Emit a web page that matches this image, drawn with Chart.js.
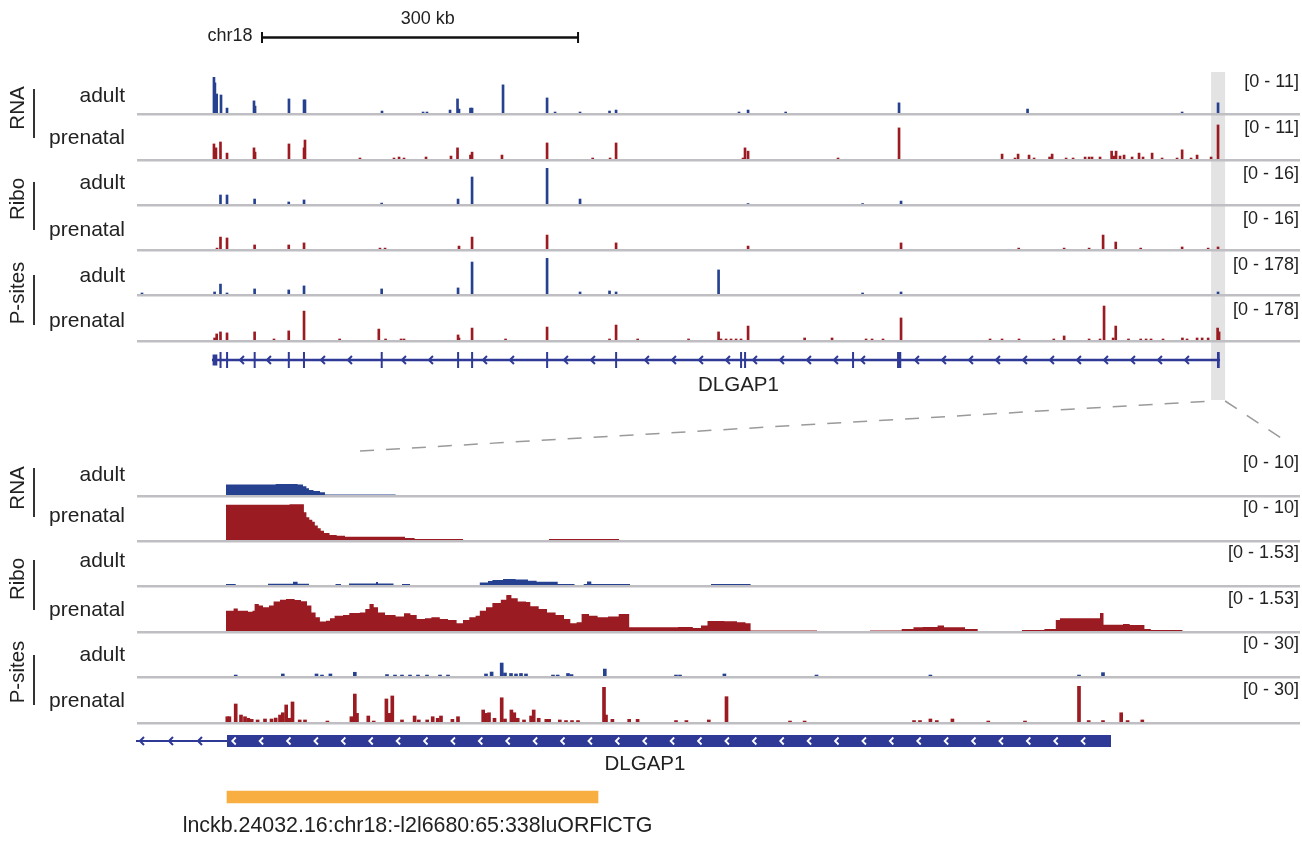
<!DOCTYPE html>
<html>
<head>
<meta charset="utf-8">
<script src="https://cdn.jsdelivr.net/npm/chart.js@4.4.1/dist/chart.umd.min.js"></script>
<style>
  html, body { margin: 0; padding: 0; background: #fff; }
  #page { position: relative; width: 1302px; height: 846px; overflow: hidden;
          font-family: 'Liberation Sans', Arial, Helvetica, sans-serif; color: #222; }
  #page canvas { position: absolute; }
  .lbl { position: absolute; white-space: nowrap; line-height: 1; }
  .vline { position: absolute; width: 1.5px; background: #333; }
</style>
</head>
<body>
<div id="page"></div>
<script>
// ---------- top panel: the whole DLGAP1 locus, x in kb from window start ----------
const topMinKb = 0, topMaxKb = 1103;
const topRanges = [11, 11, 16, 16, 178, 178];

const topRnaAdultPos = [72.1, 73.0, 74.7, 78.8, 84.5, 110.1, 111.1, 143.3, 157.6, 158.5, 231.6, 270.6, 274.3, 296.2, 303.3, 304.7, 315.6, 317.1, 346.5, 388.3, 395.9, 419.6, 447.6, 453.8, 570.5, 579.1, 614.8, 722.4, 844.4, 991.1, 1025.2];
const topRnaAdultVal = [11, 9.2, 5.8, 5.5, 1.5, 3.7, 2.1, 4.3, 4.0, 4.0, 0.6, 0.3, 0.3, 0.9, 4.3, 1.2, 1.5, 1.5, 8.6, 4.6, 0.3, 0.3, 0.6, 0.9, 0.3, 0.9, 0.3, 3.1, 1.2, 0.3, 3.1];

const topRnaPrenatalPos = [72.1, 74.0, 78.3, 84.5, 110.1, 111.1, 143.3, 157.6, 158.5, 210.7, 243.0, 247.8, 252.5, 273.4, 297.1, 303.3, 315.6, 317.1, 345.5, 388.3, 431.6, 448.1, 453.8, 574.3, 576.2, 579.1, 664.5, 722.4, 820.2, 832.5, 835.4, 845.8, 850.6, 865.3, 867.7, 881.0, 887.6, 899.0, 902.8, 905.6, 913.2, 924.2, 926.6, 928.4, 932.2, 936.0, 943.6, 950.2, 954.0, 962.6, 972.1, 986.3, 991.1, 999.6, 1005.3, 1018.6, 1025.2];
const topRnaPrenatalVal = [4.6, 3.4, 5.2, 1.8, 3.4, 2.1, 4.6, 3.4, 5.8, 0.3, 0.3, 0.6, 0.3, 0.6, 0.9, 3.4, 1.2, 2.1, 1.2, 4.9, 0.3, 0.3, 4.9, 0.3, 3.4, 2.4, 0.3, 9.5, 1.5, 0.3, 1.5, 1.2, 0.3, 0.6, 1.5, 0.3, 0.3, 0.6, 0.6, 0.6, 0.6, 2.4, 0.9, 2.4, 0.9, 1.2, 0.6, 1.8, 0.6, 1.8, 0.3, 0.3, 2.8, 0.3, 1.2, 0.6, 10.4];

const topRiboAdultPos = [78.3, 84.5, 110.7, 143.1, 157.6, 231.3, 303.8, 317.1, 388.3, 419.6, 579.1, 687.8, 724.3];
const topRiboAdultVal = [4.0, 4.0, 2.2, 0.9, 1.8, 0.4, 2.2, 12.0, 16, 2.2, 0.2, 0.2, 1.3];

const topRiboPrenatalPos = [75.0, 78.3, 84.5, 110.7, 143.1, 157.6, 229.7, 234.5, 304.7, 317.1, 388.3, 453.8, 579.1, 724.3, 836.0, 879.1, 902.8, 916.1, 928.1, 951.8, 991.1, 1015.8, 1025.2];
const topRiboPrenatalVal = [0.4, 5.3, 4.9, 1.8, 1.8, 2.7, 0.4, 0.4, 1.3, 5.3, 6.2, 2.7, 1.3, 2.7, 0.4, 0.4, 0.4, 6.2, 3.1, 0.4, 0.9, 0.4, 0.9];

const topPsiteAdultPos = [3.8, 72.7, 78.3, 84.5, 110.7, 143.1, 157.6, 231.3, 303.8, 317.1, 388.3, 419.6, 447.6, 453.8, 551.1, 687.8, 724.3, 1025.2];
const topPsiteAdultVal = [5, 10, 49, 5, 25, 20, 40, 25, 30, 158, 178, 10, 15, 10, 119, 5, 10, 10];

const topPsitePrenatalPos = [72.7, 74.7, 78.3, 84.5, 110.7, 129.1, 143.1, 157.6, 191.4, 228.6, 235.0, 249.7, 252.5, 303.8, 304.7, 317.1, 348.9, 388.3, 447.6, 453.8, 474.3, 522.6, 551.1, 553.4, 558.2, 562.9, 567.7, 572.4, 579.1, 632.8, 658.8, 691.1, 696.8, 707.2, 724.3, 808.8, 820.2, 836.3, 869.3, 879.1, 902.8, 913.2, 917.0, 925.6, 928.1, 940.2, 951.8, 956.9, 961.6, 973.0, 991.4, 995.8, 1005.3, 1010.1, 1015.8, 1024.8, 1026.2];
const topPsitePrenatalVal = [10, 30, 40, 35, 40, 5, 45, 143, 5, 54, 5, 5, 5, 25, 10, 59, 5, 64, 5, 74, 5, 5, 40, 5, 5, 5, 5, 5, 69, 10, 10, 5, 5, 5, 109, 5, 5, 5, 5, 20, 5, 5, 168, 10, 69, 5, 5, 5, 5, 5, 10, 5, 10, 10, 10, 59, 40];

// DLGAP1 gene model (minus strand) in the top panel
const topGeneStart = 70.2, topGeneEnd = 1027.1;
const topUtrStart = [70.8], topUtrEnd = [75.3];
const topExonStart = [77.4, 83.6, 109.8, 142.2, 156.6, 230.4, 302.9, 316.2, 387.4, 452.9, 571.5, 575.3, 677.8, 720.5, 1024.2];
const topExonEnd   = [79.3, 85.5, 111.7, 144.1, 158.5, 232.3, 304.8, 318.1, 389.3, 454.8, 573.4, 577.2, 679.7, 724.5, 1026.8];

// zoomed window and scale bar
const zoomStartKb = 1018.6, zoomEndKb = 1031.9;
const scaleBarStartKb = 117.7, scaleBarKb = 300;

// ---------- bottom panel: zoom on the 5' end, x in bp from window start ----------
const botMinBp = 0, botMaxBp = 11620;
const botRanges = [10, 10, 1.53, 1.53, 30, 30];

const botRnaAdultPos = [0, 880, 1377, 1596, 1650, 1684, 1710, 1755, 1820, 1870, 2576, 11620];
const botRnaAdultVal = [0, 2.9, 3.05, 2.9, 2.4, 1.85, 1.4, 1.1, 0.75, 0.15, 0, 0];

const botRnaPrenatalPos = [0, 880, 1516, 1659, 1684, 1713, 1743, 1768, 1798, 1827, 1860, 1915, 1987, 2070, 2670, 2766, 3250, 4110, 4810, 11620];
const botRnaPrenatalVal = [0, 9.8, 9.9, 7.7, 6.3, 5.6, 5.1, 4.0, 3.25, 2.6, 1.95, 1.4, 1.2, 0.92, 0.55, 0.28, 0, 0.25, 0, 0];

const botRiboAdultPos = [0, 880, 977, 1300, 1550, 1596, 1710, 1975, 2030, 2110, 2380, 2400, 2555, 2640, 2720, 3418, 3500, 3544, 3650, 3776, 3900, 3986, 4197, 4365, 4457, 4490, 4533, 4920, 5730, 6126, 11620];
const botRiboAdultVal = [0, 0.04, 0, 0.05, 0.14, 0.05, 0, 0.04, 0, 0.06, 0.13, 0.06, 0, 0.04, 0, 0.11, 0.17, 0.21, 0.26, 0.23, 0.18, 0.14, 0.04, 0, 0.04, 0.15, 0.04, 0, 0.04, 0, 0];

const botRiboPrenatalPos = [0, 880, 956, 998, 1100, 1145, 1166, 1208, 1250, 1310, 1356, 1420, 1480, 1566, 1630, 1690, 1734, 1776, 1819, 1880, 1920, 1966, 2050, 2113, 2218, 2273, 2315, 2357, 2400, 2470, 2576, 2660, 2724, 2787, 2870, 2934, 3018, 3100, 3186, 3250, 3313, 3376, 3418, 3480, 3544, 3628, 3683, 3734, 3797, 3880, 3923, 4007, 4090, 4176, 4260, 4323, 4386, 4436, 4510, 4596, 4700, 4807, 4912, 5400, 5548, 5630, 5695, 5864, 5990, 6075, 6126, 6790, 7320, 7637, 7755, 7848, 7996, 8060, 8270, 8397, 8840, 9064, 9178, 9220, 9620, 9655, 9850, 9917, 10064, 10128, 10444, 11620];
const botRiboPrenatalVal = [0, 0.86, 0.96, 0.86, 0.82, 0.86, 1.15, 1.08, 1.01, 1.08, 1.25, 1.33, 1.36, 1.32, 1.26, 1.08, 0.79, 0.58, 0.40, 0.44, 0.54, 0.65, 0.68, 0.77, 0.79, 0.94, 1.15, 1.01, 0.79, 0.68, 0.62, 0.75, 0.68, 0.51, 0.54, 0.58, 0.51, 0.47, 0.33, 0.47, 0.58, 0.65, 0.86, 1.01, 1.19, 1.33, 1.53, 1.39, 1.25, 1.23, 1.05, 0.94, 0.79, 0.68, 0.51, 0.33, 0.37, 0.72, 0.65, 0.58, 0.62, 0.72, 0.16, 0.17, 0.13, 0.23, 0.43, 0.41, 0.37, 0.33, 0.02, 0, 0.02, 0.09, 0.16, 0.17, 0.23, 0.16, 0.09, 0, 0.04, 0.09, 0.47, 0.54, 0.77, 0.27, 0.30, 0.26, 0.09, 0.04, 0, 0];

const botPsiteAdultPos = [977, 1448, 1785, 1840, 1924, 2168, 2490, 2570, 2640, 2720, 2800, 2890, 3020, 3100, 3480, 3536, 3637, 3670, 3730, 3780, 3830, 3880, 4150, 4197, 4300, 4335, 4668, 5380, 5420, 5864, 6785, 7924, 9410, 9650];
const botPsiteAdultVal = [0.8, 1.7, 1.7, 0.8, 1.7, 3.1, 1.2, 0.8, 0.8, 0.8, 0.8, 0.8, 0.8, 0.8, 1.7, 3.3, 10.8, 2.5, 2.1, 1.7, 2.1, 1.7, 0.8, 0.8, 2.1, 1.2, 5.8, 0.8, 0.8, 1.7, 0.8, 0.8, 0.8, 2.8];

const botPsitePrenatalPos = [893, 914, 977, 1030, 1070, 1103, 1137, 1196, 1270, 1335, 1377, 1420, 1448, 1482, 1516, 1545, 1617, 1670, 1894, 2134, 2168, 2190, 2303, 2357, 2484, 2513, 2543, 2640, 2766, 2808, 2892, 2947, 2997, 3030, 3144, 3200, 3452, 3480, 3510, 3565, 3637, 3670, 3734, 3763, 3797, 3860, 3931, 3957, 4007, 4083, 4112, 4218, 4280, 4340, 4400, 4660, 4680, 4744, 4912, 4996, 5380, 5484, 5708, 5885, 6520, 6666, 7760, 7820, 7924, 7988, 8144, 8503, 8870, 9410, 9507, 9650, 9832, 9896, 10043];
const botPsitePrenatalVal = [4.4, 4.4, 15, 5.8, 4.4, 3.1, 2.2, 1.7, 2.5, 2.5, 3.3, 5.8, 7.7, 14.2, 3.1, 16.7, 1.7, 1.7, 0.8, 4.4, 23.3, 7.2, 5, 0.8, 19.2, 7.2, 21.7, 1.7, 5, 1.7, 1.7, 4.4, 3.1, 5, 2.2, 4.4, 10, 7.2, 7.7, 3.1, 20.2, 2.5, 10, 7.7, 3.1, 1.7, 5, 10, 3.1, 2.2, 2.2, 1.7, 1.2, 1.2, 1.2, 28.9, 5.8, 2.2, 2.2, 2.2, 1.2, 1.2, 1.7, 21.1, 0.8, 0.8, 1.2, 1.2, 2.5, 1.2, 2.5, 0.8, 0.8, 30, 1.2, 1.2, 7.7, 1.2, 1.7];

// last exon of DLGAP1 and the uORF in the bottom panel
const botGeneStart = 0, botExonStart = 890, botExonEnd = 9730;
const orfStart = 890, orfEnd = 4600;
const orfName = 'lnckb.24032.16:chr18:-l2l6680:65:338luORFlCTG';
const geneName = 'DLGAP1';

const groups = ['RNA', 'Ribo', 'P-sites'];
const conditions = ['adult', 'prenatal'];

// ---------- styling / layout ----------
const BLUE = '#26418f';
const RED = '#9a1b21';
const GENE = '#2e3a96';
const ORANGE = '#f8ae40';
const GRID = '#bfbfc3';
const PANEL_LEFT = 138, PANEL_W = 1162;

const topBaseY = [113, 159, 204, 249, 294, 340];
const botBaseY = [495, 540, 585, 631, 676, 722];
const topLabelY = [102, 144, 189, 236, 282, 327];
const botLabelY = [481, 522, 567, 616, 661, 707];
const topRangeY = [87, 133, 179, 224.5, 270, 315];
const botRangeY = [468, 513, 558, 604, 649, 695];

const page = document.getElementById('page');

function makeCanvas(left, top, w, h) {
  const c = document.createElement('canvas');
  c.width = w; c.height = h;
  c.style.left = left + 'px'; c.style.top = top + 'px';
  c.style.width = w + 'px'; c.style.height = h + 'px';
  page.appendChild(c);
  return c;
}

function addText(text, x, baseline, size, align) {
  const d = document.createElement('div');
  d.className = 'lbl';
  d.textContent = text;
  d.style.fontSize = size + 'px';
  d.style.left = x + 'px';
  d.style.top = (baseline - 0.8465 * size) + 'px';
  if (align === 'right') d.style.transform = 'translateX(-100%)';
  if (align === 'center') d.style.transform = 'translateX(-50%)';
  page.appendChild(d);
}

function addVertical(text, cx, cy, size) {
  const d = document.createElement('div');
  d.className = 'lbl';
  d.textContent = text;
  d.style.fontSize = size + 'px';
  d.style.left = cx + 'px';
  d.style.top = cy + 'px';
  d.style.transform = 'translate(-50%, -50%) rotate(-90deg)';
  page.appendChild(d);
}

function addVLine(x, y0, y1) {
  const d = document.createElement('div');
  d.className = 'vline';
  d.style.left = x + 'px';
  d.style.top = y0 + 'px';
  d.style.height = (y1 - y0) + 'px';
  page.appendChild(d);
}

function chevron(ctx, x, y, w, h, color, lw) {
  ctx.strokeStyle = color;
  ctx.lineWidth = lw;
  ctx.beginPath();
  ctx.moveTo(x + w / 2, y - h / 2);
  ctx.lineTo(x - w / 2, y);
  ctx.lineTo(x + w / 2, y + h / 2);
  ctx.stroke();
}

const baseOpts = {
  responsive: false,
  animation: false,
  devicePixelRatio: 1,
  events: [],
  plugins: { legend: { display: false }, tooltip: { enabled: false } }
};

// gray base line under each track
const baselinePlugin = {
  id: 'baseline',
  beforeDatasetsDraw(chart) {
    const { ctx, chartArea: a } = chart;
    ctx.save();
    ctx.fillStyle = GRID;
    ctx.fillRect(a.left - 1, a.bottom, a.right - a.left + 1, 2.5);
    ctx.restore();
  }
};

// highlight box, scale bar and the dashed zoom connectors
const framePlugin = {
  id: 'frame',
  beforeDraw(chart) {
    const ctx = chart.ctx, x = chart.scales.x;
    const h0 = x.getPixelForValue(zoomStartKb), h1 = x.getPixelForValue(zoomEndKb);
    ctx.save();
    ctx.fillStyle = '#e3e3e3';
    ctx.fillRect(h0, 72, h1 - h0, 328);

    const s0 = x.getPixelForValue(scaleBarStartKb);
    const s1 = x.getPixelForValue(scaleBarStartKb + scaleBarKb);
    ctx.strokeStyle = '#111';
    ctx.lineWidth = 2.5;
    ctx.beginPath();
    ctx.moveTo(s0, 37.5); ctx.lineTo(s1, 37.5);
    ctx.stroke();
    ctx.lineWidth = 2;
    ctx.beginPath();
    ctx.moveTo(s0, 32); ctx.lineTo(s0, 43);
    ctx.moveTo(s1, 32); ctx.lineTo(s1, 43);
    ctx.stroke();

    ctx.strokeStyle = '#9a9a9a';
    ctx.lineWidth = 1.5;
    ctx.setLineDash([14, 12]);
    ctx.beginPath();
    ctx.moveTo(360, 451); ctx.lineTo(h0, 401);
    ctx.stroke();
    ctx.beginPath();
    ctx.moveTo(h1, 401); ctx.lineTo(1281, 438);
    ctx.stroke();
    ctx.restore();
  }
};

const topGenePlugin = {
  id: 'topGene',
  afterDatasetsDraw(chart) {
    const ctx = chart.ctx, x = chart.scales.x, a = chart.chartArea;
    const cy = (a.top + a.bottom) / 2;
    const g0 = x.getPixelForValue(topGeneStart), g1 = x.getPixelForValue(topGeneEnd);
    ctx.save();
    ctx.fillStyle = GENE;
    ctx.fillRect(g0, cy - 1.25, g1 - g0, 2.5);
    const blocks = [];
    topUtrStart.forEach((s, i) => {
      const p0 = x.getPixelForValue(s), p1 = x.getPixelForValue(topUtrEnd[i]);
      ctx.fillRect(p0, cy - 5.5, p1 - p0, 11);
      blocks.push([p0, p1]);
    });
    topExonStart.forEach((s, i) => {
      const p0 = x.getPixelForValue(s), p1 = x.getPixelForValue(topExonEnd[i]);
      ctx.fillRect(p0, cy - 8, Math.max(1.6, p1 - p0), 16);
      blocks.push([p0, p1]);
    });
    for (let p = g0 + 30; p < g1 - 6; p += 27) {
      if (blocks.some(([b0, b1]) => p > b0 - 8 && p < b1 + 8)) continue;
      chevron(ctx, p, cy, 4, 8, GENE, 2);
    }
    ctx.restore();
  }
};

const botGenePlugin = {
  id: 'botGene',
  afterDatasetsDraw(chart) {
    const ctx = chart.ctx, x = chart.scales.x, a = chart.chartArea;
    const cy = (a.top + a.bottom) / 2;
    const g0 = x.getPixelForValue(botGeneStart);
    const e0 = x.getPixelForValue(botExonStart), e1 = x.getPixelForValue(botExonEnd);
    ctx.save();
    ctx.fillStyle = GENE;
    ctx.fillRect(g0 - 3, cy - 1, e0 - g0 + 3, 2);
    for (let p = g0 + 4; p < e0 - 10; p += 29) chevron(ctx, p, cy, 4, 8, GENE, 2);
    ctx.fillRect(e0, cy - 6, e1 - e0, 12);
    for (let p = e0 + 7; p < e1 - 8; p += 27.4) chevron(ctx, p, cy, 3.5, 7, '#fff', 1.8);
    ctx.restore();
  }
};

function zip(pos, val) {
  return pos.map((x, i) => ({ x, y: val[i] }));
}

function trackChart(baseY, pos, val, range, color, min, max, kind) {
  const c = makeCanvas(PANEL_LEFT - 2, baseY - 38, PANEL_W + 4, 42);
  const data = zip(pos, val);
  const ds = kind === 'coverage'
    ? { data, stepped: true, fill: 'origin', backgroundColor: color,
        borderColor: 'transparent', borderWidth: 0, pointRadius: 0 }
    : { data, backgroundColor: color, borderWidth: 0,
        barThickness: kind === 'wide' ? 3 : 2 };
  return new Chart(c, {
    type: kind === 'coverage' ? 'line' : 'bar',
    data: { datasets: [ds] },
    options: {
      ...baseOpts,
      layout: { padding: { top: 2, bottom: 4, left: 2, right: 2 } },
      scales: {
        x: { type: 'linear', min, max, display: false, offset: false },
        y: { min: 0, max: range, display: false }
      }
    },
    plugins: [baselinePlugin]
  });
}

function annoChart(top, h, min, max, plugin) {
  const c = makeCanvas(PANEL_LEFT - 2, top, PANEL_W + 4, h);
  return new Chart(c, {
    type: 'scatter',
    data: { datasets: [{ data: [] }] },
    options: {
      ...baseOpts,
      layout: { padding: { left: 2, right: 2 } },
      scales: { x: { type: 'linear', min, max, display: false }, y: { display: false } }
    },
    plugins: [plugin]
  });
}

// frame (drawn first, behind the tracks)
(function () {
  const c = makeCanvas(0, 0, 1302, 846);
  new Chart(c, {
    type: 'scatter',
    data: { datasets: [{ data: [] }] },
    options: {
      ...baseOpts,
      layout: { padding: { left: PANEL_LEFT, right: 1302 - PANEL_LEFT - PANEL_W } },
      scales: { x: { type: 'linear', min: topMinKb, max: topMaxKb, display: false }, y: { display: false } }
    },
    plugins: [framePlugin]
  });
})();

const topTracks = [
  [topRnaAdultPos, topRnaAdultVal, 'bar'],
  [topRnaPrenatalPos, topRnaPrenatalVal, 'bar'],
  [topRiboAdultPos, topRiboAdultVal, 'bar'],
  [topRiboPrenatalPos, topRiboPrenatalVal, 'bar'],
  [topPsiteAdultPos, topPsiteAdultVal, 'bar'],
  [topPsitePrenatalPos, topPsitePrenatalVal, 'bar']
];
const botTracks = [
  [botRnaAdultPos, botRnaAdultVal, 'coverage'],
  [botRnaPrenatalPos, botRnaPrenatalVal, 'coverage'],
  [botRiboAdultPos, botRiboAdultVal, 'coverage'],
  [botRiboPrenatalPos, botRiboPrenatalVal, 'coverage'],
  [botPsiteAdultPos, botPsiteAdultVal, 'wide'],
  [botPsitePrenatalPos, botPsitePrenatalVal, 'wide']
];

topTracks.forEach(([p, v, kind], i) => {
  trackChart(topBaseY[i], p, v, topRanges[i], i % 2 ? RED : BLUE, topMinKb, topMaxKb, kind);
  addText(conditions[i % 2], 125, topLabelY[i], 21, 'right');
  addText('[0 - ' + topRanges[i] + ']', 1299, topRangeY[i], 18, 'right');
});
botTracks.forEach(([p, v, kind], i) => {
  trackChart(botBaseY[i], p, v, botRanges[i], i % 2 ? RED : BLUE, botMinBp, botMaxBp, kind);
  addText(conditions[i % 2], 125, botLabelY[i], 21, 'right');
  addText('[0 - ' + botRanges[i] + ']', 1299, botRangeY[i], 18, 'right');
});

annoChart(346, 28, topMinKb, topMaxKb, topGenePlugin);
annoChart(728, 26, botMinBp, botMaxBp, botGenePlugin);

// uORF as a floating horizontal bar
new Chart(makeCanvas(PANEL_LEFT - 2, 785, PANEL_W + 4, 24), {
  type: 'bar',
  data: { labels: ['uORF'], datasets: [{ data: [[orfStart, orfEnd]], backgroundColor: ORANGE, barThickness: 12, borderWidth: 0 }] },
  options: {
    ...baseOpts,
    indexAxis: 'y',
    layout: { padding: { left: 2, right: 2 } },
    scales: { x: { type: 'linear', min: botMinBp, max: botMaxBp, display: false }, y: { display: false } }
  }
});

// text
addText('chr18', 252.5, 41.7, 18, 'right');
addText(scaleBarKb + ' kb', 427.7, 24, 18, 'center');
addText(geneName, 738.5, 391, 20.5, 'center');
addText(geneName, 645, 770, 20.5, 'center');
addText(orfName, 417.5, 833, 21.4, 'center');

const groupTopY = [108, 199, 292.5], groupBotY = [487.5, 579, 672];
const lineTop = [[89, 138], [182, 230], [275, 325]];
const lineBot = [[468, 517], [560, 610], [655, 705]];
groups.forEach((g, i) => {
  addVertical(g, 17, groupTopY[i], 20.5);
  addVertical(g, 17, groupBotY[i], 20.5);
  addVLine(33, lineTop[i][0], lineTop[i][1]);
  addVLine(33, lineBot[i][0], lineBot[i][1]);
});
</script>
</body>
</html>
